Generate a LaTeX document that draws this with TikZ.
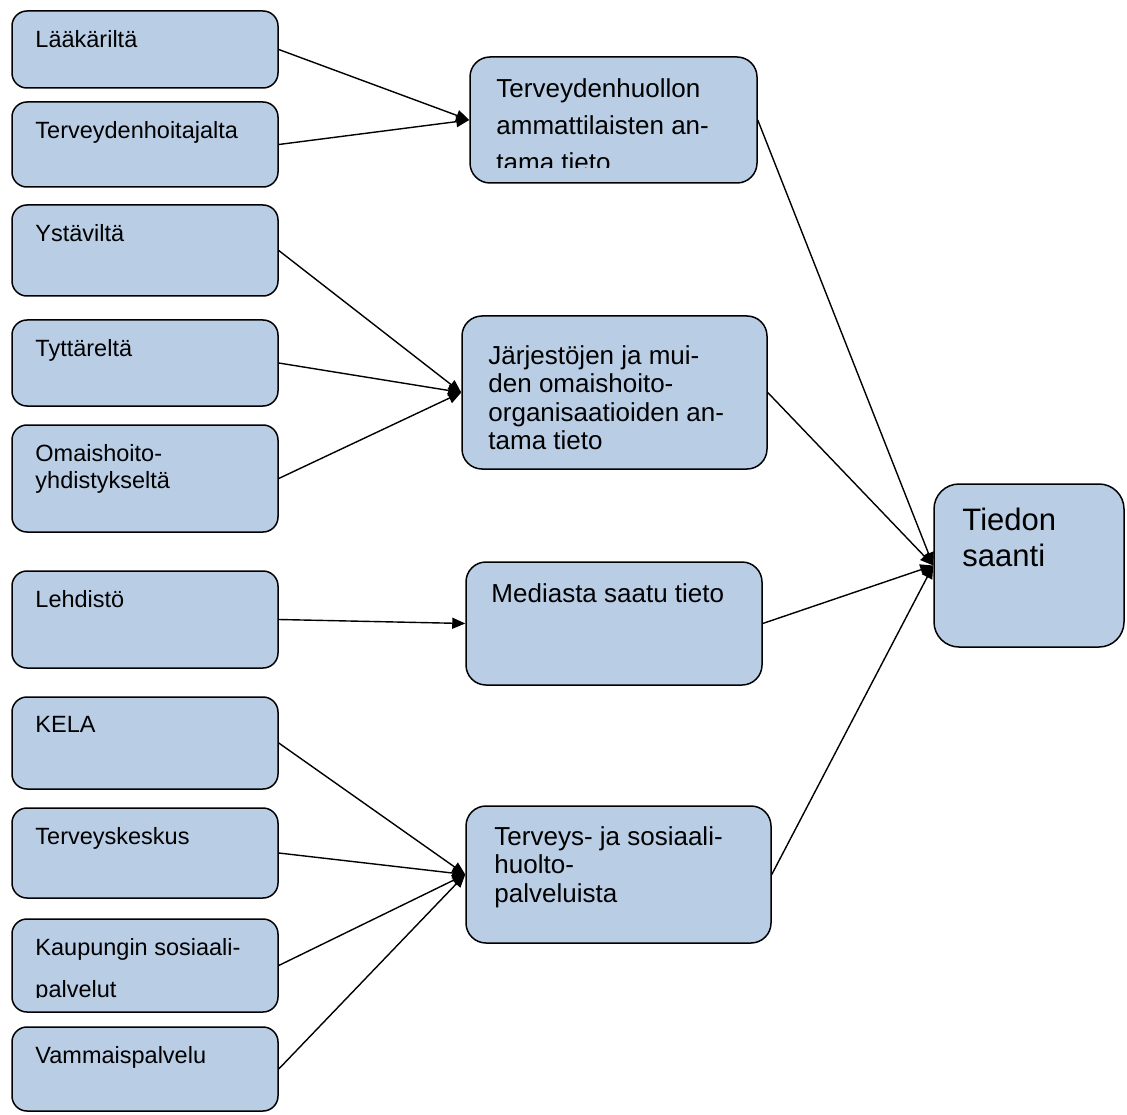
\documentclass[tikz,border=0pt]{standalone}
\usepackage{fontspec}
\setmainfont{Liberation Sans}
\usetikzlibrary{arrows.meta}
\definecolor{boxblue}{RGB}{185,205,229}

\begin{document}
\begin{tikzpicture}[x=1pt,y=-1pt,
  srcbox/.style={draw, line width=1.5pt, fill=boxblue, rectangle, rounded corners=15pt,
    minimum width=266pt, inner sep=0pt},
  midbox/.style={draw, line width=1.5pt, fill=boxblue, rectangle, rounded corners=20pt,
    inner sep=0pt},
  lbl/.style={anchor=north west, inner sep=0pt, xshift=24pt, yshift=-20pt, align=left,
    font=\fontsize{23.5}{27}\selectfont},
  midlbl/.style={anchor=north west, inner sep=0pt, xshift=27pt, yshift=-22pt, align=left,
    font=\fontsize{26}{28.5}\selectfont},
  arr/.style={-{Triangle[length=13pt,width=11pt]}, line width=1.4pt}]

\useasboundingbox (0,0) rectangle (1127,1115);

%---------------------------------------
% Sources (left column)
%---------------------------------------
\node[srcbox, minimum height=77pt, label={[lbl]north west:Lääkäriltä}] (laak) at (145,49.5) {};
\node[srcbox, minimum height=85pt, label={[lbl]north west:Terveydenhoitajalta}] (terv) at (145,144.5) {};
\node[srcbox, minimum height=91pt, label={[lbl]north west:Ystäviltä}] (ystav) at (145,250.5) {};
\node[srcbox, minimum height=86pt, label={[lbl]north west:Tyttäreltä}] (tytt) at (145,363) {};
\node[srcbox, minimum height=107pt, label={[lbl]north west:{Omaishoito-\\yhdistykseltä}}] (omais) at (145,478.5) {};
\node[srcbox, minimum height=97pt, label={[lbl]north west:Lehdistö}] (lehd) at (145,619.5) {};
\node[srcbox, minimum height=92pt, label={[lbl]north west:KELA}] (kela) at (145,743) {};
\node[srcbox, minimum height=90pt, label={[lbl]north west:Terveyskeskus}] (tkesk) at (145,853) {};
\node[srcbox, minimum height=93pt] (kaup) at (145,965.5) {};
\begin{scope}
  \clip (kaup.north west) rectangle ([yshift=15pt]kaup.south east);
  \node[lbl, font=\fontsize{23.5}{42}\selectfont] (kaup-t) at (kaup.north west) {Kaupungin sosiaali-\\palvelut};
\end{scope}
\node[srcbox, minimum height=84pt, label={[lbl]north west:Vammaispalvelu}] (vamm) at (145,1069) {};

%---------------------------------------
% Groups (middle column)
%---------------------------------------
\node[midbox, minimum width=287pt, minimum height=126pt] (ammat) at (613.5,120) {};
\begin{scope}
  \clip (ammat.north west) rectangle ([yshift=16pt]ammat.south east);
  \node[midlbl, font=\fontsize{26}{37}\selectfont] (ammat-t) at (ammat.north west)
    {Terveydenhuollon\\ammattilaisten an-\\tama tieto};
\end{scope}
\node[midbox, minimum width=305pt, minimum height=153pt,
  label={[midlbl, yshift=-8pt]north west:{Järjestöjen ja mui-\\den omaishoito-\\organisaatioiden an-\\tama tieto}}]
  (jarj) at (614.5,392.5) {};
\node[midbox, minimum width=296pt, minimum height=123pt,
  label={[midlbl, xshift=-1pt]north west:Mediasta saatu tieto}] (media) at (614,623.5) {};
\node[midbox, minimum width=305pt, minimum height=137pt,
  label={[midlbl, xshift=2pt, yshift=1pt]north west:{Terveys- ja sosiaali-\\huolto-\\palveluista}}]
  (sosp) at (618.5,874.5) {};

%---------------------------------------
% Result (right)
%---------------------------------------
\node[midbox, rounded corners=25pt, minimum width=190pt, minimum height=163pt,
  label={[midlbl, xshift=2pt, yshift=-3pt, font=\fontsize{31}{36}\selectfont]north west:{Tiedon\\saanti}}]
  (saanti) at (1029,565.5) {};

% Connectors
\draw[arr] (laak.east) -- (ammat.west);
\draw[arr] (terv.east) -- (ammat.west);
\foreach \s in {ystav,tytt,omais}
  \draw[arr] (\s.east) -- (jarj.west);
\draw[arr] (lehd.east) -- (media.west);
\foreach \s in {kela,tkesk,kaup,vamm}
  \draw[arr] (\s.east) -- (sosp.west);
\foreach \g in {ammat,jarj,media,sosp}
  \draw[arr] (\g.east) -- (saanti.west);

\end{tikzpicture}
\end{document}
